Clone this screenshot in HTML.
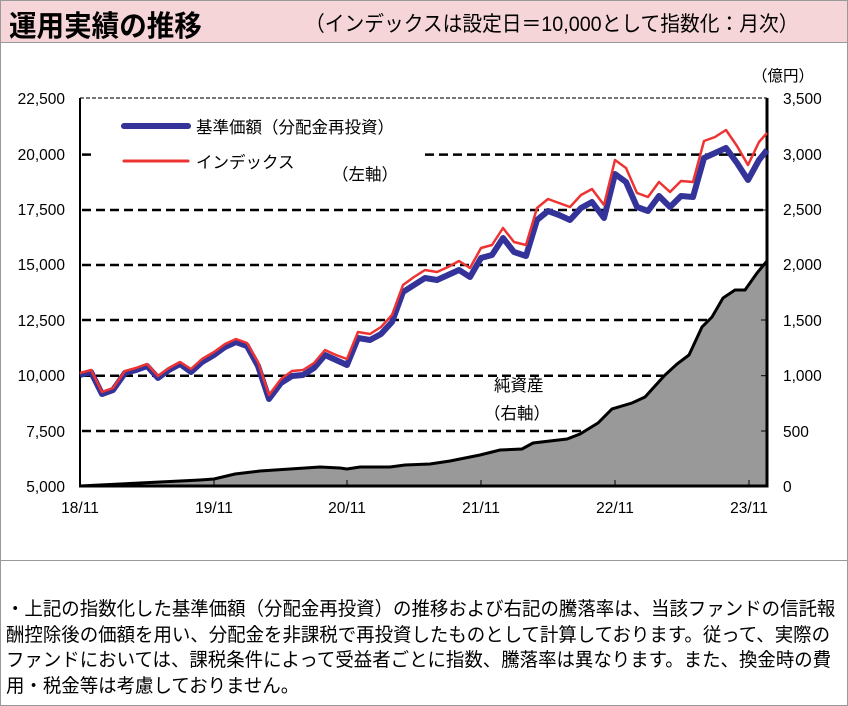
<!DOCTYPE html>
<html><head><meta charset="utf-8"><style>
body{margin:0;width:848px;height:706px;background:#fff;overflow:hidden;font-family:"Liberation Sans","Noto Sans CJK JP",sans-serif;}
.hdr{position:absolute;left:0;top:0;width:846px;height:41px;background:#f5d5d8;border:1px solid #999;}
.t1{position:absolute;left:8px;top:2px;font-size:29px;font-weight:bold;white-space:nowrap;transform:scaleX(0.95);transform-origin:left;}
.t2{position:absolute;left:304px;top:7px;font-size:21px;white-space:nowrap;transform:scaleX(0.94);transform-origin:left;}
.box{position:absolute;left:0;top:42px;width:846px;height:518px;border:1px solid #999;border-top:none;}
.box2{position:absolute;left:0;top:561px;width:846px;height:144px;border:1px solid #999;border-top:none;}
.note{position:absolute;left:6px;top:597px;font-size:19px;line-height:25.5px;white-space:nowrap;}
.note div{transform:scaleX(0.97);transform-origin:left;}
svg text{font-family:"Liberation Sans","Noto Sans CJK JP",sans-serif;}
</style></head><body>
<div class="hdr"><div class="t1">運用実績の推移</div><div class="t2">（インデックスは設定日＝10,000として指数化：月次）</div></div>
<div class="box"></div>
<div class="box2"></div>
<svg width="848" height="706" style="position:absolute;left:0;top:0">
<g stroke="#000" stroke-width="2.5" stroke-dasharray="9,5">
<line x1="82" y1="154.6" x2="95" y2="154.6"/><line x1="425" y1="154.6" x2="766" y2="154.6"/>
<line x1="82" y1="210" x2="766" y2="210"/><line x1="82" y1="265" x2="766" y2="265"/>
<line x1="82" y1="320" x2="766" y2="320"/><line x1="82" y1="375.7" x2="766" y2="375.7"/>
<line x1="82" y1="431" x2="766" y2="431"/>
</g>
<line x1="80" y1="98" x2="767" y2="98" stroke="#777" stroke-width="2" stroke-dasharray="4,2"/>
<polygon fill="#999" stroke="#000" stroke-width="3" points="80,486 120,484 160,482 200,480 214,479 235,474 260,471 290,469 320,467 340,468 347,469 360,467 390,467 405,465 430,464 450,461 470,457 480,455 500,450 522,449 533,443 567,439 580,434 598,423 612,409 632,403 645,397 665,375 677,364 689,355 702,327 712,317 723,298 735,290 745,290 757,273 767,261 767,486"/>
<line x1="80" y1="98" x2="80" y2="487" stroke="#000" stroke-width="2"/>
<line x1="767" y1="98" x2="767" y2="487" stroke="#000" stroke-width="3"/>
<line x1="79" y1="486" x2="768" y2="486" stroke="#000" stroke-width="3"/>
<g stroke="#000" stroke-width="1"><line x1="214" y1="480" x2="214" y2="486"/><line x1="347" y1="480" x2="347" y2="486"/><line x1="481" y1="480" x2="481" y2="486"/><line x1="615" y1="480" x2="615" y2="486"/><line x1="749" y1="480" x2="749" y2="486"/>
<line x1="761" y1="154.6" x2="767" y2="154.6"/><line x1="761" y1="210" x2="767" y2="210"/><line x1="761" y1="265" x2="767" y2="265"/><line x1="761" y1="320" x2="767" y2="320"/><line x1="761" y1="375.7" x2="767" y2="375.7"/><line x1="761" y1="431" x2="767" y2="431"/></g>
<polyline fill="none" stroke="#333399" stroke-width="6" stroke-linejoin="round" points="80,375 91,372 102,394 113,390 125,373 136,370 147,366 158,378 169,370 180,364 191,372 202,362 214,355 225,347 236,342 247,346 258,366 269,399 281,383 292,376 303,375 314,368 325,355 336,360 347,365 358,338 370,340 381,334 392,322 403,292 414,285 425,278 437,280 448,275 459,270 470,277 481,258 492,255 503,238 514,252 526,256 537,220 548,211 559,215 570,220 581,208 592,202 604,218 615,174 626,182 637,207 648,211 659,196 670,207 681,196 693,197 704,158 715,153 726,148 737,163 748,180 759,160 767,150"/>
<polyline fill="none" stroke="#ee3333" stroke-width="2.5" stroke-linejoin="round" points="80,373 91,370 102,392 113,388 125,371 136,368 147,364 158,376 169,368 180,362 191,369 202,359 214,352 225,344 236,339 247,343 258,362 269,395 281,379 292,371 303,370 314,363 325,350 336,355 347,359 358,332 370,334 381,327 392,315 403,285 414,277 425,270 437,272 448,267 459,261 470,268 481,248 492,245 503,228 514,242 526,245 537,208 548,199 559,203 570,207 581,195 592,189 604,205 615,160 626,168 637,193 648,197 659,182 670,192 681,181 693,182 704,141 715,137 726,130 737,146 748,165 759,142 767,133"/>
<line x1="124" y1="126" x2="188" y2="126" stroke="#333399" stroke-width="6" stroke-linecap="round"/>
<line x1="124" y1="161" x2="188" y2="161" stroke="#ee3333" stroke-width="3" stroke-linecap="round"/>
<g font-size="16.5"><text x="196" y="133">基準価額（分配金再投資）</text><text x="196" y="168">インデックス</text><text x="332" y="180">（左軸）</text>
<text x="494" y="391">純資産</text><text x="484" y="419">（右軸）</text></g>
<g font-size="15.5" text-anchor="end"><text x="65" y="104">22,500</text><text x="65" y="160">20,000</text><text x="65" y="215">17,500</text><text x="65" y="270">15,000</text><text x="65" y="326">12,500</text><text x="65" y="381">10,000</text><text x="65" y="437">7,500</text><text x="65" y="492">5,000</text></g>
<g font-size="15.5"><text x="783" y="104">3,500</text><text x="783" y="160">3,000</text><text x="783" y="215">2,500</text><text x="783" y="270">2,000</text><text x="783" y="326">1,500</text><text x="783" y="381">1,000</text><text x="783" y="437">500</text><text x="783" y="492">0</text><text x="752" y="81">（億円）</text></g>
<g font-size="15.5" text-anchor="middle"><text x="80" y="513">18/11</text><text x="214" y="513">19/11</text><text x="347" y="513">20/11</text><text x="481" y="513">21/11</text><text x="615" y="513">22/11</text><text x="749" y="513">23/11</text></g>
</svg>
<div class="note"><div>・上記の指数化した基準価額（分配金再投資）の推移および右記の騰落率は、当該ファンドの信託報</div><div>酬控除後の価額を用い、分配金を非課税で再投資したものとして計算しております。従って、実際の</div><div>ファンドにおいては、課税条件によって受益者ごとに指数、騰落率は異なります。また、換金時の費</div><div>用・税金等は考慮しておりません。</div></div>
</body></html>
